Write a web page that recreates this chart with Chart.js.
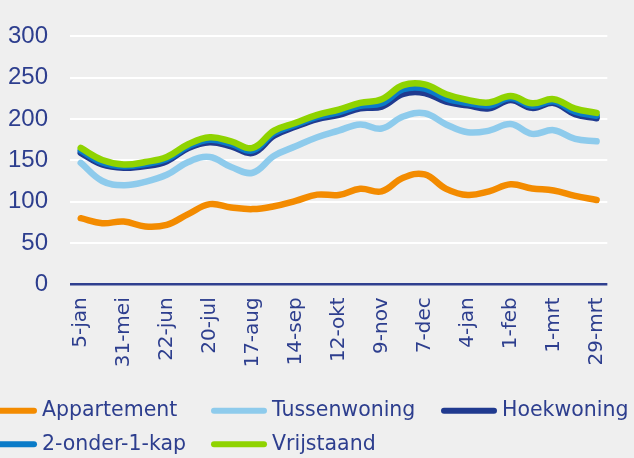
<!DOCTYPE html>
<html>
<head>
<meta charset="utf-8">
<script src="https://cdn.jsdelivr.net/npm/chart.js@4/dist/chart.umd.min.js"></script>
<style>
  html, body { margin: 0; padding: 0; background: #efefef; }
  canvas { display: block; }
</style>
</head>
<body>
<canvas id="c" width="634" height="458"></canvas>
<script>
// Categories (two-weekly); only every other one carries a tick label
const categories = ['5-jan','','31-mei','','22-jun','','20-jul','','17-aug','','14-sep','','12-okt','','9-nov','','7-dec','','4-jan','','1-feb','','1-mrt','','29-mrt'];

const appartement  = [80, 74, 76, 70, 72, 85, 97, 93, 91, 94.5, 101, 108.5, 108, 115.5, 112.5, 129, 133, 115.5, 108, 112.5, 121, 116, 113.5, 107, 102];
const tussenwoning = [147, 125, 120, 124, 132.5, 148, 154, 142, 135, 155.5, 167, 178, 186, 193.5, 188.5, 203, 207, 193.5, 184, 186, 194, 182, 186.5, 176, 173];
const hoekwoning   = [159, 145, 141, 143, 149, 165, 172, 167, 159, 180, 191, 200, 205, 213, 215, 230.5, 231.5, 221, 216.5, 213, 223, 213.5, 219.5, 206, 201];
const tweeOnder1Kap = [162, 147.5, 143, 145.5, 151.5, 167, 175, 170, 162, 183, 193, 202.5, 208, 216, 219, 236, 237, 225, 219.5, 216.5, 225.5, 216, 221.5, 209, 204];
const vrijstaand   = [165, 150.5, 145, 148, 154, 169.5, 178, 173, 165, 186, 195.5, 205, 211.5, 219.5, 224, 241, 242, 230, 223, 220, 228, 219, 224, 212.5, 207.5];

const seriesNames  = ['Appartement', 'Tussenwoning', 'Hoekwoning', '2-onder-1-kap', 'Vrijstaand'];
const seriesValues = [appartement, tussenwoning, hoekwoning, tweeOnder1Kap, vrijstaand];
const seriesColors = ['#f38b00', '#8ecbec', '#203a8f', '#0a7bc8', '#8fd300'];

const yMin = 0, yMax = 300, yStep = 50;

const TEXT = '#2d3e8e';
const AXIS = '#2f3f8f';

const columnLegend = {
  id: 'columnLegend',
  afterDraw(chart) {
    const ctx = chart.ctx;
    ctx.save();
    chart.data.datasets.forEach((ds, i) => {
      const col = i % 3, row = Math.floor(i / 3);
      const x0 = -19 + col * 230;
      const y = 410.7 + row * 33.6;
      ctx.strokeStyle = ds.borderColor;
      ctx.lineWidth = 6;
      ctx.lineCap = 'round';
      ctx.beginPath();
      ctx.moveTo(x0 + 3, y);
      ctx.lineTo(x0 + 53, y);
      ctx.stroke();
      ctx.fillStyle = TEXT;
      ctx.font = '20.5px "DejaVu Sans"';
      ctx.textBaseline = 'middle';
      ctx.textAlign = 'left';
      ctx.fillText(ds.label, x0 + 61, y);
    });
    ctx.restore();
  }
};

const datasets = seriesNames.map((name, i) => ({
  label: name,
  data: seriesValues[i],
  borderColor: seriesColors[i],
  backgroundColor: seriesColors[i],
  order: seriesNames.length - 1 - i,
  fill: false
}));

new Chart(document.getElementById('c'), {
  type: 'line',
  data: { labels: categories, datasets },
  options: {
    responsive: false,
    animation: false,
    devicePixelRatio: 1,
    layout: { padding: { top: 22, right: 20, left: 0, bottom: 0 } },
    plugins: { legend: { display: false }, tooltip: { enabled: false }, title: { display: false } },
    elements: {
      point: { radius: 0 },
      line: { tension: 0.4, borderWidth: 6.5, borderCapStyle: 'round', borderJoinStyle: 'round' }
    },
    scales: {
      x: {
        type: 'category',
        offset: true,
        grid: { display: false, drawTicks: false },
        border: { display: false },
        ticks: {
          autoSkip: false, minRotation: 90, maxRotation: 90, padding: 13,
          color: TEXT, font: { family: 'DejaVu Sans', size: 20 }
        },
        afterFit(s) { s.height = 173.7; }
      },
      y: {
        min: yMin, max: yMax,
        ticks: { stepSize: yStep, padding: 22, color: TEXT, font: { family: 'Liberation Sans', size: 24 } },
        grid: {
          drawTicks: false,
          color: c => c.tick.value === 0 ? AXIS : '#ffffff',
          lineWidth: c => c.tick.value === 0 ? 2.5 : 2
        },
        border: { display: false },
        afterFit(s) { s.width = 70; }
      }
    }
  },
  plugins: [columnLegend]
});
</script>
</body>
</html>
